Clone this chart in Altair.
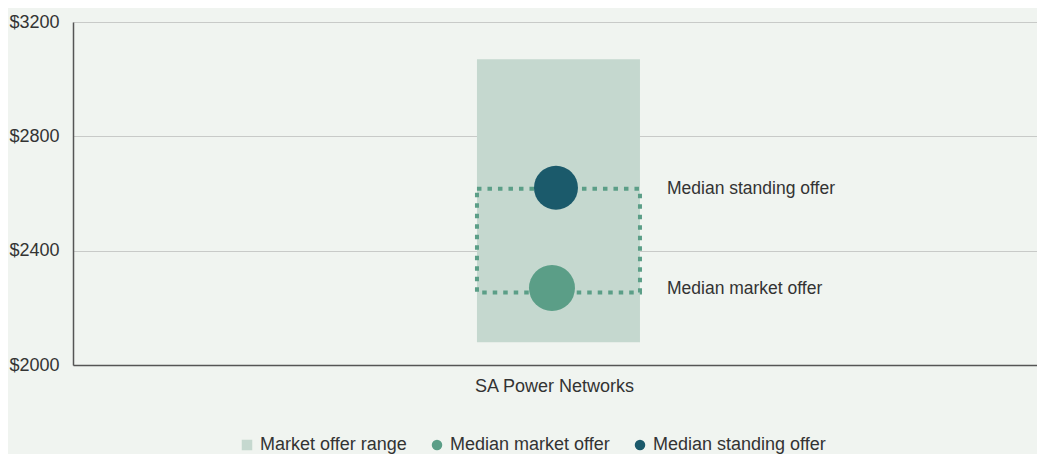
import altair as alt
import pandas as pd

# ---- data ----
providers = ["SA Power Networks"]
range_low = [2080]
range_high = [3070]
median_market = [2269]
median_standing = [2620]
outline_low = [2254]
outline_high = [2617]
series_names = ["Market offer range", "Median market offer", "Median standing offer"]
series_colors = ["#c5d8cf", "#5b9e87", "#1b5a6b"]
series_shapes = ["square", "circle", "circle"]
y_ticks = [2000, 2400, 2800, 3200]

FONT = "Liberation Sans"
TXT = "#333333"
FS = 18
FS_SMALL = 17.5

range_df = pd.DataFrame({"provider": providers, "low": range_low, "high": range_high,
                         "series": [series_names[0]]})
outline_df = pd.DataFrame({"provider": providers, "low": outline_low, "high": outline_high})
market_df = pd.DataFrame({"provider": providers, "value": median_market,
                          "series": [series_names[1]]})
standing_df = pd.DataFrame({"provider": providers, "value": median_standing,
                            "series": [series_names[2]]})

legend = alt.Legend(title=None, orient="none", direction="horizontal",
                    legendX=165, legendY=414, labelFontSize=FS, labelFont=FONT,
                    labelColor=TXT, symbolSize=110, labelOffset=4, columnPadding=21,
                    symbolStrokeWidth=0, labelLimit=400)
color_scale = alt.Scale(domain=series_names, range=series_colors)
shape_scale = alt.Scale(domain=series_names, range=series_shapes)

x_enc = alt.X("provider:N", title=None,
              scale=alt.Scale(paddingInner=0, paddingOuter=1, align=0.5054),
              axis=alt.Axis(labelAngle=0, ticks=False, labelPadding=12, labelOffset=-4,
                            labelFontSize=FS, labelFont=FONT, labelColor=TXT,
                            domainColor="#555555", domainWidth=1.5, grid=False))
y_scale = alt.Scale(domain=[2000, 3200], nice=False, zero=False)
y_axis = alt.Axis(values=y_ticks, labelExpr="'$' + datum.value", ticks=False,
                  labelPadding=14, labelFontSize=FS, labelFont=FONT, labelColor=TXT,
                  domainColor="#555555", domainWidth=1.5, grid=True,
                  gridColor="#c8cac8", gridWidth=1)

bar = alt.Chart(range_df).mark_bar(width=163).encode(
    x=x_enc,
    y=alt.Y("low:Q", scale=y_scale, axis=y_axis, title=None),
    y2="high:Q",
    color=alt.Color("series:N", scale=color_scale, legend=legend),
)

outline = alt.Chart(outline_df).mark_bar(
    width=163, fillOpacity=0, stroke="#5b9e87", strokeWidth=4, strokeDash=[4.5, 6]
).encode(x="provider:N", y="low:Q", y2="high:Q")

market = alt.Chart(market_df).mark_point(filled=True, opacity=1, size=2116, xOffset=-6.5).encode(
    x="provider:N", y="value:Q",
    color=alt.Color("series:N", scale=color_scale, legend=legend),
    shape=alt.Shape("series:N", scale=shape_scale, legend=legend),
)
standing = alt.Chart(standing_df).mark_point(filled=True, opacity=1, size=1936, xOffset=-2.5).encode(
    x="provider:N", y="value:Q",
    color=alt.Color("series:N", scale=color_scale, legend=legend),
    shape=alt.Shape("series:N", scale=shape_scale, legend=legend),
)

label_df = pd.DataFrame({"provider": providers * 2,
                         "value": median_standing + median_market,
                         "label": ["Median standing offer", "Median market offer"]})
labels = alt.Chart(label_df).mark_text(
    align="left", baseline="middle", dx=108.5, dy=1, fontSize=FS_SMALL, font=FONT, color=TXT
).encode(x="provider:N", y="value:Q", text="label:N")

chart = alt.layer(bar, outline, market, standing, labels).properties(
    width=964, height=343,
    autosize=alt.AutoSizeParams(type="none"),
    padding={"left": 65, "top": 14, "right": 0, "bottom": 95},
    background="#f0f4f0",
).configure_view(stroke=None)

chart.save("out.html", embed_options={"renderer": "svg", "actions": False})
